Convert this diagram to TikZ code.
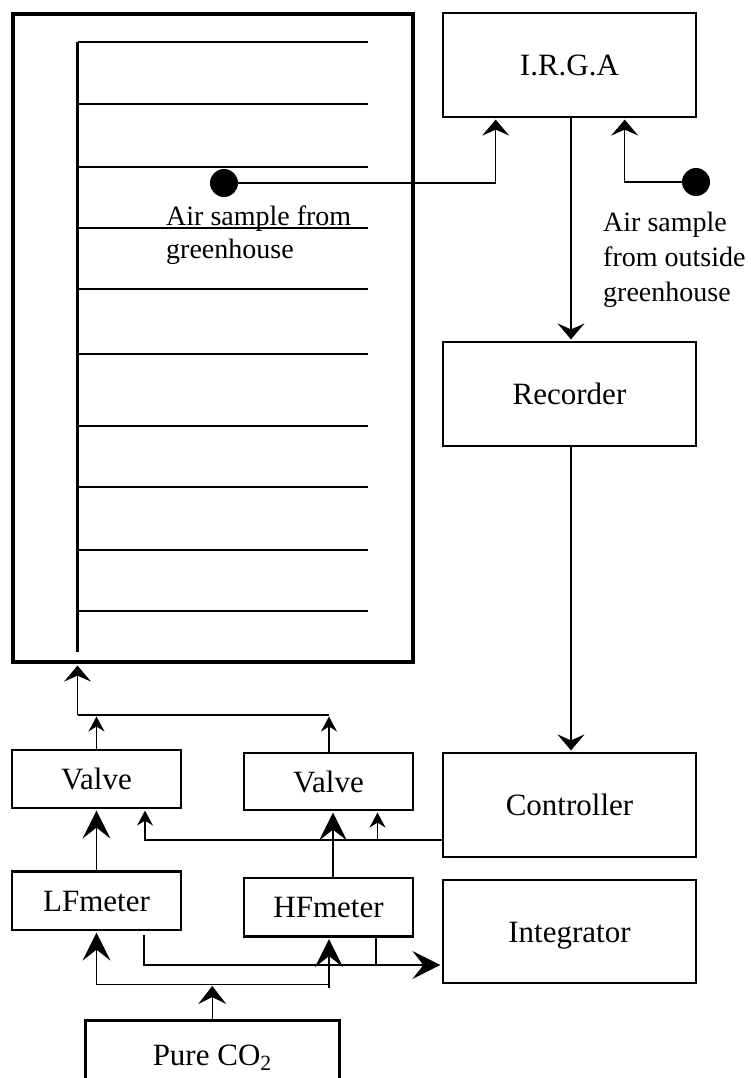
\documentclass[tikz,border=0pt]{standalone}
\usepackage{fontspec}
\setmainfont{Liberation Serif}
\usetikzlibrary{arrows.meta}
\begin{document}
\begin{tikzpicture}[x=1pt,y=-1pt,
  box/.style={draw,line width=2.6pt,inner sep=0pt,text height=21pt,text depth=0pt,
    font=\fontsize{31}{36}\selectfont},
  conn/.style={line width=1.3pt},
  arrB/.style={conn,-{Stealth[length=28pt,width=28pt,inset=11pt]},shorten >=1.3pt},
  arrM/.style={conn,-{Stealth[length=16pt,width=27pt,inset=6pt]},shorten >=1.3pt},
  arrS/.style={conn,-{Stealth[length=15pt,width=16pt,inset=5pt]},shorten >=1.3pt},
  dot/.style={circle,fill=black,inner sep=0pt,minimum size=28pt},
  freetext/.style={anchor=north west,inner sep=0pt,align=left}
]
\clip (0,0) rectangle (750,1078);

% greenhouse
\node[draw,line width=3.6pt,minimum width=400pt,minimum height=648pt] (gh) at (213,338) {};
\draw[line width=2.5pt] (77.5,42) -- (77.5,652);
\foreach \yy in {42,104,167,228,289,354,426,487,550,611}
  \draw[line width=2pt] (77.5,\yy) -- (368,\yy);

% right column boxes
\node[box,minimum width=253pt,minimum height=104pt] (irga) at (569.5,65) {I.R.G.A};
\node[box,minimum width=253pt,minimum height=104pt] (rec) at (569.5,394) {Recorder};
\node[box,minimum width=253pt,minimum height=104pt] (ctrl) at (569.5,805) {Controller};
\node[box,minimum width=253pt,minimum height=103pt] (integ) at (569.5,931.5) {Integrator};

% left boxes
\node[box,minimum width=169pt,minimum height=58pt] (valve1) at (96.5,779) {Valve};
\node[box,minimum width=169pt,minimum height=57pt] (valve2) at (328.5,781.5) {Valve};
\node[box,minimum width=169pt,minimum height=58.5pt] (lf) at (96.5,900.75) {LFmeter};
\node[box,minimum width=169pt,minimum height=58.5pt] (hf) at (328.5,907.25) {HFmeter};

% Pure CO2 box, cut off by the lower edge of the picture
\node[box,draw=none,minimum width=251.5pt,minimum height=56pt,text height=30pt,text depth=0pt] (co2) at (212.25,1050) {Pure CO\textsubscript{2}};
\draw[line width=2.6pt] ([yshift=-5pt]co2.south west) -- (co2.north west) -- (co2.north east) -- ([yshift=-5pt]co2.south east);

% sample points
\node[dot] (dot1) at (224,183) {};
\node[dot] (dot2) at (696,182) {};
\node[freetext,font=\fontsize{28}{33}\selectfont] (lab1) at (166,206) {Air sample from\\greenhouse};
\node[freetext,font=\fontsize{28}{35}\selectfont] (lab2) at (603,212) {Air sample\\from outside\\greenhouse};

% IRGA connections
\draw[arrM] (dot1.east) -| ([xshift=54pt]irga.south west);
\draw[arrM] (dot2.west) -| ([xshift=183pt]irga.south west);
\draw[arrM] ([xshift=1.5pt]irga.south) -- ([xshift=1.5pt]rec.north);
\draw[arrM] ([xshift=1.5pt]rec.south) -- ([xshift=1.5pt]ctrl.north);

% valves to greenhouse
\coordinate (j1) at (77.5,715);
\coordinate (j2) at (329,715);
\draw[conn] (j1) -- (j2);
\draw[arrM,shorten >=1.8pt] (j1) -- (j1 |- gh.south);
\draw[arrS,shorten >=1.5pt] (valve1.north) -- (valve1.north |- j1);
\draw[arrS,shorten >=1.5pt] (j2 |- valve2.north) -- (j2);

% meters to valves
\draw[arrB] (lf.north) -- (valve1.south);
\draw[arrB] ([xshift=4.5pt]hf.north) -- ([xshift=4.5pt]valve2.south);

% controller to valves
\coordinate (cv) at (377.5,840);
\draw[arrS] ([yshift=-35pt]ctrl.west) -| ([xshift=48.5pt]valve1.south);
\draw[arrS] (cv) -- (cv |- valve2.south);

% CO2 supply
\coordinate (cl) at (96.5,984.5);
\coordinate (cr) at (329,984.5);
\coordinate (crb) at (329,988);
\coordinate (co2t) at (212.25,986);
\draw[conn] (cl) -- (cr) -- (crb);
\draw[arrB] (cl) -- (lf.south);
\draw[arrB] (crb) -- (crb |- hf.south);
\draw[conn,-{Stealth[length=18pt,width=28pt,inset=7pt]}] (co2.north) -- (co2t);

% meters to integrator
\coordinate (ij) at (376,965);
\draw[arrB] ([xshift=47.5pt,yshift=-4pt]lf.south) |- ([yshift=-33.5pt]integ.west);
\draw[conn] ([xshift=47.5pt]hf.south) -- (ij);
\end{tikzpicture}
\end{document}
